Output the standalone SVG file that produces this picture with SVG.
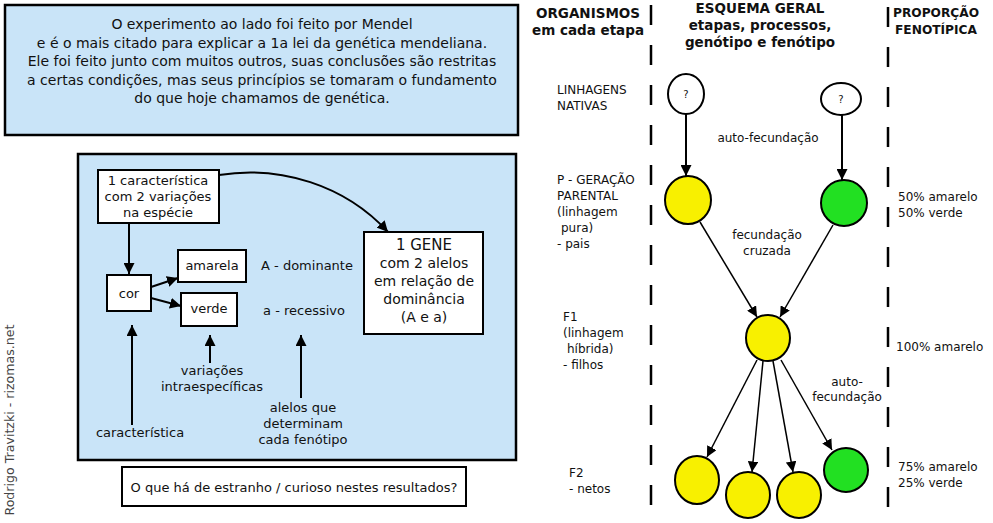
<svg xmlns="http://www.w3.org/2000/svg" width="993" height="523" viewBox="0 0 993 523">
<defs>
<style>
text{font-family:"DejaVu Sans","Liberation Sans",sans-serif;fill:#111;}
.t14{font-size:14px;text-anchor:middle;}
.t13{font-size:13px;text-anchor:middle;}
.t12{font-size:12px;}
.c12{font-size:12px;text-anchor:middle;}
.h{font-size:13.5px;font-weight:bold;text-anchor:middle;}
.h2{font-size:12.2px;font-weight:bold;text-anchor:middle;}
.panel{fill:#c9e4f8;stroke:#000;stroke-width:2.5;}
.box{fill:#fff;stroke:#000;stroke-width:2;}
.ln{fill:none;stroke:#000;stroke-width:2;}
.ln1{fill:none;stroke:#000;stroke-width:1.5;}
.dash{stroke:#000;stroke-width:2.5;stroke-dasharray:20 20;}
.yel{fill:#f8f000;stroke:#000;stroke-width:2;}
.grn{fill:#22e022;stroke:#000;stroke-width:2;}
.wht{fill:#fff;stroke:#000;stroke-width:2;}
</style>
<marker id="ah" viewBox="0 0 10 10" refX="10" refY="5" markerWidth="5.5" markerHeight="5.5" markerUnits="strokeWidth" orient="auto">
<path d="M0,0 L10,5 L0,10 z" fill="#000"/>
</marker>
<marker id="ah2" viewBox="0 0 10 10" refX="10" refY="5" markerWidth="7" markerHeight="7" markerUnits="strokeWidth" orient="auto">
<path d="M0,0 L10,5 L0,10 z" fill="#000"/>
</marker>
</defs>

<g id="intro">
<rect class="panel" x="5" y="5" width="513" height="130"/>
<text class="t14" x="262" y="29">O experimento ao lado foi feito por Mendel</text>
<text class="t14" x="262" y="48">e é o mais citado para explicar a 1a lei da genética mendeliana.</text>
<text class="t14" x="262" y="66">Ele foi feito junto com muitos outros, suas conclusões são restritas</text>
<text class="t14" x="262" y="85">a certas condições, mas seus princípios se tomaram o fundamento</text>
<text class="t14" x="262" y="103">do que hoje chamamos de genética.</text>
</g>

<g id="concept-panel">
<rect class="panel" x="78" y="154" width="438" height="306"/>
</g>

<g id="caracteristica-box">
<rect class="box" x="98" y="170" width="121" height="53"/>
<text class="t13" x="158" y="185">1 característica</text>
<text class="t13" x="158" y="201">com 2 variações</text>
<text class="t13" x="158" y="217">na espécie</text>
</g>

<g id="cor">
<rect class="box" x="107" y="275" width="44" height="36"/>
<text class="t13" x="129" y="298">cor</text>
</g>

<g id="amarela">
<rect class="box" x="178" y="250" width="68" height="32"/>
<text class="t13" x="212" y="270">amarela</text>
</g>

<g id="verde">
<rect class="box" x="181" y="293" width="56" height="33"/>
<text class="t13" x="209" y="313">verde</text>
</g>

<g id="gene">
<rect class="box" x="364" y="232" width="119" height="102"/>
<text class="t14" x="424" y="250" style="font-size:15px">1 GENE</text>
<text class="t14" x="424" y="268">com 2 alelos</text>
<text class="t14" x="424" y="286">em relação de</text>
<text class="t14" x="424" y="304">dominância</text>
<text class="t14" x="424" y="322">(A e a)</text>
</g>

<g id="allele-labels">
<text class="t13" x="307" y="270">A - dominante</text>
<text class="t13" x="304" y="315">a - recessivo</text>
</g>

<g id="label-caracteristica">
<text class="t13" x="140" y="437">característica</text>
</g>
<g id="label-variacoes">
<text class="t13" x="212" y="375">variações</text>
<text class="t13" x="212" y="391">intraespecíficas</text>
</g>
<g id="label-alelos">
<text class="t13" x="303" y="412">alelos que</text>
<text class="t13" x="303" y="428">determinam</text>
<text class="t13" x="303" y="444">cada fenótipo</text>
</g>

<g id="question">
<rect class="box" x="122" y="467" width="344" height="39"/>
<text class="t13" x="294" y="492">O que há de estranho / curioso nestes resultados?</text>
</g>

<g id="credit">
<text class="c12" transform="translate(14,420) rotate(-90)" style="fill:#444;font-size:12.6px">Rodrigo Travitzki - rizomas.net</text>
</g>

<g id="headers">
<text class="h" x="588" y="18">ORGANISMOS</text>
<text class="h" x="588" y="35">em cada etapa</text>
<text class="h" x="760" y="13">ESQUEMA GERAL</text>
<text class="h" x="760" y="30">etapas, processos,</text>
<text class="h" x="760" y="47">genótipo e fenótipo</text>
<text class="h2" x="936" y="17">PROPORÇÃO</text>
<text class="h2" x="936" y="34">FENOTÍPICA</text>
</g>

<g id="stage-labels">
<text class="t12" x="557" y="94">LINHAGENS</text>
<text class="t12" x="557" y="110">NATIVAS</text>
<text class="t12" x="557" y="184">P - GERAÇÃO</text>
<text class="t12" x="557" y="200">PARENTAL</text>
<text class="t12" x="557" y="216">(linhagem</text>
<text class="t12" x="561" y="232">pura)</text>
<text class="t12" x="557" y="248">- pais</text>
<text class="t12" x="563" y="321">F1</text>
<text class="t12" x="563" y="337">(linhagem</text>
<text class="t12" x="567" y="353">híbrida)</text>
<text class="t12" x="563" y="369">- filhos</text>
<text class="t12" x="569" y="477">F2</text>
<text class="t12" x="569" y="493">- netos</text>
</g>

<g id="proportions">
<text class="t12" x="898" y="201">50% amarelo</text>
<text class="t12" x="898" y="217">50% verde</text>
<text class="t12" x="896" y="351">100% amarelo</text>
<text class="t12" x="898" y="471">75% amarelo</text>
<text class="t12" x="898" y="487">25% verde</text>
</g>

<g id="process-labels">
<text class="c12" x="768" y="142">auto-fecundação</text>
<text class="c12" x="767" y="239">fecundação</text>
<text class="c12" x="767" y="255">cruzada</text>
<text class="c12" x="847" y="386">auto-</text>
<text class="c12" x="847" y="401">fecundação</text>
</g>

<g id="separators">
<line class="dash" x1="651" y1="5" x2="651" y2="510"/>
<line class="dash" x1="888" y1="7" x2="888" y2="510"/>
</g>

<g id="connectors">
<line class="ln" x1="129" y1="223" x2="129" y2="274" marker-end="url(#ah)"/>
<line class="ln" x1="151" y1="287" x2="178" y2="278" marker-end="url(#ah)"/>
<line class="ln" x1="151" y1="298" x2="181" y2="306" marker-end="url(#ah)"/>
<path class="ln" d="M219,175 C280,165 345,185 388,232" marker-end="url(#ah)"/>
<line class="ln" x1="132" y1="425" x2="132" y2="325" marker-end="url(#ah)"/>
<line class="ln" x1="210" y1="363" x2="210" y2="335" marker-end="url(#ah)"/>
<line class="ln" x1="301" y1="398" x2="301" y2="335" marker-end="url(#ah)"/>
<line class="ln" x1="686" y1="114" x2="686" y2="176" marker-end="url(#ah)"/>
<line class="ln" x1="842" y1="115" x2="842" y2="180" marker-end="url(#ah)"/>
<line class="ln1" x1="700" y1="222" x2="757" y2="317" marker-end="url(#ah2)"/>
<line class="ln1" x1="833" y1="225" x2="780" y2="317" marker-end="url(#ah2)"/>
<line class="ln1" x1="757" y1="360" x2="707" y2="457" marker-end="url(#ah2)"/>
<line class="ln1" x1="763" y1="361" x2="752" y2="472" marker-end="url(#ah2)"/>
<line class="ln1" x1="773" y1="361" x2="793" y2="472" marker-end="url(#ah2)"/>
<line class="ln1" x1="781" y1="360" x2="832" y2="450" marker-end="url(#ah2)"/>
</g>

<g id="native-1">
<ellipse class="wht" cx="686" cy="94" rx="18" ry="20"/>
<text class="c12" x="686" y="98" style="font-size:10px">?</text>
</g>
<g id="native-2">
<ellipse class="wht" cx="841" cy="99" rx="20" ry="16"/>
<text class="c12" x="841" y="103" style="font-size:10px">?</text>
</g>
<g id="p-yellow"><ellipse class="yel" cx="688" cy="200" rx="23" ry="24"/></g>
<g id="p-green"><ellipse class="grn" cx="844" cy="203" rx="23" ry="23"/></g>
<g id="f1"><ellipse class="yel" cx="768" cy="338" rx="22" ry="23"/></g>
<g id="f2-1"><ellipse class="yel" cx="697" cy="480" rx="22" ry="24"/></g>
<g id="f2-2"><ellipse class="yel" cx="748" cy="495" rx="22" ry="23"/></g>
<g id="f2-3"><ellipse class="yel" cx="799" cy="495" rx="22" ry="23"/></g>
<g id="f2-4"><ellipse class="grn" cx="846" cy="470" rx="22" ry="22"/></g>
</svg>
